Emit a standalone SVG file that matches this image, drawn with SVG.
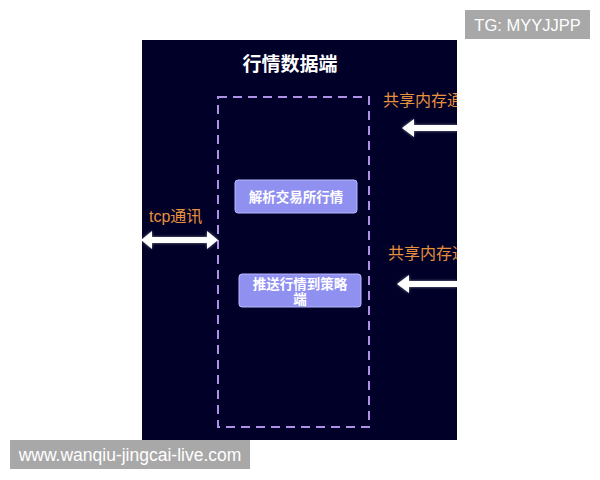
<svg xmlns="http://www.w3.org/2000/svg" width="600" height="480" viewBox="0 0 600 480">
<defs>
<style>
.cjk{font-family:"Liberation Sans","Noto Sans CJK SC",sans-serif}
.title{font-size:19px;font-weight:bold;fill:#ffffff}
.lbl{font-size:16px;fill:#e8913c}
.btxt{font-size:13.5px;font-weight:bold;fill:#ffffff}
.box{fill:#9090f0;stroke:#b8b8ff;stroke-width:1}
.arrow{fill:#ffffff}
.wm{fill:#a8a8a8}
.wmt{font-family:"Liberation Sans",sans-serif;font-size:17.5px;fill:#ffffff}
.wmt2{font-family:"Liberation Sans",sans-serif;font-size:16.5px;fill:#ffffff}
</style>
<clipPath id="panelClip"><rect x="142" y="40" width="315" height="400"/></clipPath>
<filter id="glow" x="-20%" y="-50%" width="140%" height="200%"><feGaussianBlur stdDeviation="1.5"/></filter>
</defs>
<rect x="0" y="0" width="600" height="480" fill="#ffffff"/>
<rect id="panel" x="142" y="40" width="315" height="400" fill="#000028"/>
<g clip-path="url(#panelClip)">
<text id="title" class="cjk title" x="290" y="71" text-anchor="middle">行情数据端</text>
<g id="group-box">
<rect x="218" y="97" width="151" height="330" fill="none" stroke="#b08fe6" stroke-width="2" stroke-dasharray="9,6"/>
</g>
<g id="node-parse">
<rect class="box" x="235" y="180" width="122" height="33" rx="3"/>
<text class="cjk btxt" x="296" y="202" text-anchor="middle">解析交易所行情</text>
</g>
<g id="node-push">
<rect class="box" x="239" y="274" width="122" height="33" rx="3"/>
<text class="cjk btxt" x="300" y="289" text-anchor="middle">推送行情到策略</text>
<text class="cjk btxt" x="300" y="304" text-anchor="middle">端</text>
</g>
<g id="connectors">
<g opacity="0.5" filter="url(#glow)">
<path class="arrow" d="M141,240 L152,231 L152,237 L207,237 L207,231 L218,240 L207,249 L207,243 L152,243 L152,249 Z"/>
<path class="arrow" d="M402,128 L414,119 L414,125 L457,125 L457,131 L414,131 L414,137 Z"/>
<path class="arrow" d="M397,284 L409,275 L409,281 L457,281 L457,287 L409,287 L409,293 Z"/>
</g>
<path id="tcp-arrow" class="arrow" d="M141,240 L152,231 L152,237 L207,237 L207,231 L218,240 L207,249 L207,243 L152,243 L152,249 Z"/>
<path id="shm-arrow-1" class="arrow" d="M402,128 L414,119 L414,125 L457,125 L457,131 L414,131 L414,137 Z"/>
<path id="shm-arrow-2" class="arrow" d="M397,284 L409,275 L409,281 L457,281 L457,287 L409,287 L409,293 Z"/>
</g>
<text class="cjk lbl" x="149" y="222">tcp通讯</text>
<text class="cjk lbl" x="383" y="106">共享内存通</text>
<text class="cjk lbl" x="388" y="259">共享内存通</text>
</g>
<g id="wm-tg">
<rect class="wm" x="465" y="10" width="125" height="29"/>
<text class="wmt2" x="527.5" y="30.5" text-anchor="middle">TG: MYYJJPP</text>
</g>
<g id="wm-url">
<rect class="wm" x="10" y="440" width="240" height="29"/>
<text class="wmt" x="130" y="461" text-anchor="middle">www.wanqiu-jingcai-live.com</text>
</g>
</svg>
